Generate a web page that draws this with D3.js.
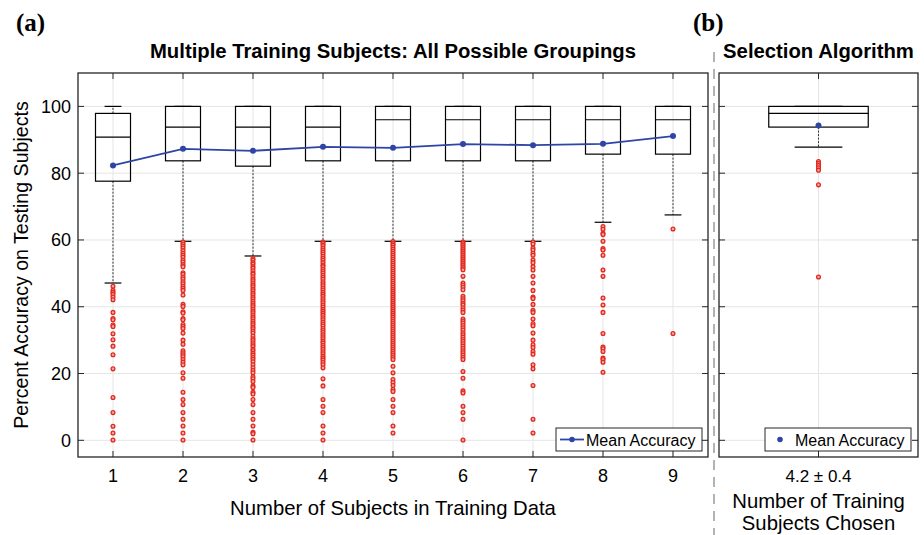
<!DOCTYPE html>
<html>
<head>
<meta charset="utf-8">
<script src="https://cdn.jsdelivr.net/npm/d3@7"></script>
<style>
    body { margin: 0; background: #fff; }
    svg text { font-family: "Liberation Sans", Arial, Helvetica, sans-serif; fill: #000; }
</style>
</head>
<body>
<svg id="chart" width="924" height="535"></svg>
<script>
// ---- data ----
var groups = [1, 2, 3, 4, 5, 6, 7, 8, 9];
var q1 = [77.6, 83.7, 82.1, 83.7, 83.7, 83.7, 83.7, 85.7, 85.7];
var medians = [90.8, 93.8, 93.8, 93.8, 96.0, 96.0, 96.0, 96.0, 96.0];
var q3 = [97.9, 100, 100, 100, 100, 100, 100, 100, 100];
var upperWhisker = [100, 100, 100, 100, 100, 100, 100, 100, 100];
var lowerWhisker = [47.1, 59.6, 55.2, 59.6, 59.6, 59.6, 59.6, 65.3, 67.5];
var meanAccuracy = [82.3, 87.3, 86.7, 87.9, 87.6, 88.7, 88.4, 88.8, 91.1];

var outliers1 = [46.1, 44.9, 44.3, 43.7, 42.9, 42.1, 38.3, 36.5, 36.1, 34.5, 34.1, 31.9, 30.1, 28.2,
    25.6, 21.4, 12.8, 8.3, 4.2, 2.2, 0.1];
var outliers2 = [59.4, 58.8, 58.2, 57.6, 56.8, 56.0, 55.4, 54.8, 54.0, 53.4, 52.6, 52.0, 50.2, 49.7,
    48.9, 48.3, 47.5, 46.9, 46.1, 45.5, 44.9, 43.5, 40.7, 40.1, 38.5, 38.1, 36.5, 36.1, 34.7, 34.1,
    33.5, 32.1, 30.0, 28.8, 26.8, 26.2, 25.6, 25.0, 24.2, 23.4, 22.6, 20.2, 18.6, 14.4, 12.2, 10.7,
    8.3, 6.3, 4.3, 2.2, 0.1];
var outliers3 = [54.4, 53.9, 53.2, 52.7, 52.0, 51.5, 50.8, 50.1, 49.7, 49.0, 48.3, 47.8, 47.1, 46.5,
    46.0, 45.3, 44.8, 44.1, 43.6, 42.9, 42.4, 41.7, 41.1, 40.5, 40.0, 39.3, 38.7, 38.2, 37.5, 36.9,
    36.4, 35.7, 35.1, 34.6, 33.9, 33.4, 32.7, 32.1, 31.2, 30.4, 29.9, 29.2, 28.6, 28.1, 27.3, 26.8,
    26.1, 25.5, 24.8, 24.2, 23.5, 22.6, 21.7, 20.9, 20.2, 19.0, 18.4, 17.6, 16.3, 15.8, 14.4, 13.9,
    12.2, 10.7, 8.3, 6.3, 4.3, 2.4, 2.0, 0.1];
var outliers4 = [59.4, 58.9, 58.3, 57.6, 57.0, 56.4, 55.8, 55.1, 54.5, 53.9, 53.2, 52.5, 52.0, 51.3,
    50.7, 50.1, 49.4, 48.8, 48.2, 47.5, 46.9, 46.3, 45.6, 45.0, 44.3, 43.7, 43.1, 42.4, 41.8, 41.2,
    40.5, 39.9, 39.2, 38.6, 38.0, 37.4, 36.7, 36.1, 35.4, 34.8, 34.2, 33.5, 32.9, 32.3, 31.6, 31.0,
    30.4, 29.7, 29.1, 28.4, 27.8, 27.2, 26.5, 25.9, 25.2, 24.6, 24.0, 23.3, 22.6, 21.7, 18.4, 16.3,
    12.2, 10.2, 8.3, 4.3, 2.2, 0.1];
var outliers5 = [59.5, 58.9, 58.4, 57.8, 57.2, 56.6, 56.0, 55.4, 54.8, 54.2, 53.6, 53.0, 52.4, 51.8,
    51.2, 50.6, 50.0, 49.4, 48.8, 48.2, 47.6, 47.0, 46.4, 45.8, 45.2, 44.6, 44.0, 43.4, 42.8, 42.2,
    41.6, 41.0, 40.4, 39.8, 39.2, 38.6, 38.0, 37.4, 36.8, 36.2, 35.6, 35.0, 34.4, 33.8, 33.2, 32.6,
    32.0, 31.4, 30.8, 30.2, 29.6, 29.0, 28.4, 27.8, 27.2, 26.6, 26.0, 25.4, 24.8, 24.2, 22.2, 20.2,
    18.2, 17.3, 16.4, 15.2, 14.6, 12.2, 10.2, 8.3, 4.3, 2.2];
var outliers6 = [59.4, 58.9, 58.3, 57.7, 57.1, 56.5, 55.9, 55.3, 54.7, 54.1, 53.5, 52.9, 52.3, 51.7,
    51.1, 49.1, 47.1, 46.5, 45.8, 45.1, 43.1, 42.4, 41.8, 41.0, 40.5, 39.7, 39.0, 38.3, 36.3, 35.7,
    35.1, 34.4, 33.7, 33.0, 32.2, 31.6, 30.9, 30.2, 29.6, 28.9, 28.2, 27.5, 26.8, 26.2, 25.5, 24.8,
    24.2, 20.6, 18.6, 14.8, 14.2, 10.2, 8.3, 6.3, 0.1];
var outliers7 = [59.4, 58.8, 57.6, 57.0, 56.0, 55.4, 54.0, 53.2, 52.0, 51.0, 49.1, 47.1, 44.9, 42.9,
    42.5, 40.7, 38.9, 38.3, 36.3, 34.9, 34.3, 32.1, 30.0, 28.6, 27.8, 26.6, 25.8, 22.6, 21.4, 16.4,
    6.3, 2.2];
var outliers8 = [64.0, 63.2, 62.0, 61.6, 59.6, 57.4, 57.0, 55.4, 51.0, 49.1, 42.6, 40.5, 38.3, 32.0,
    27.9, 27.4, 26.6, 24.6, 24.2, 23.4, 20.4];
var outliers9 = [63.3, 32.0];
var outlierSets = [outliers1, outliers2, outliers3, outliers4, outliers5, outliers6, outliers7,
    outliers8, outliers9];

var selQ1 = 93.8, selMedian = 97.9, selQ3 = 100, selUpper = 100, selLower = 87.8, selMean = 94.3;
var selOutliers = [83.5, 82.9, 82.3, 81.6, 80.9, 76.5, 48.9];
var selTickLabel = "4.2 \u00b1 0.4";

var yTicks = [0, 20, 40, 60, 80, 100];

// ---- colours ----
var frameColor = "#262626",
    gridColor = "#e5e5e5",
    meanColor = "#2f45a6",
    outlierStroke = "#e2291f",
    outlierFill = "#f4a8a2";

var svg = d3.select("#chart");

var y = d3.scaleLinear().domain([-5, 110]).range([457, 73]);
var xLeft = d3.scaleLinear().domain([0.5, 9.5]).range([78, 708]);
var xRight = d3.scaleLinear().domain([0.5, 1.5]).range([719, 918]);

/**
 * grid, inner ticks and frame of one MATLAB style axes
 */
function drawFrame(x, xVals) {
    var x0 = x.range()[0], x1 = x.range()[1],
        y0 = y.range()[1], y1 = y.range()[0];
    var g = svg.append("g");

    g.selectAll("line.gx").data(xVals).enter().append("line")
        .attr("x1", function (d) { return x(d); })
        .attr("x2", function (d) { return x(d); })
        .attr("y1", y0).attr("y2", y1)
        .attr("stroke", gridColor).attr("stroke-width", 1);
    g.selectAll("line.gy").data(yTicks).enter().append("line")
        .attr("x1", x0).attr("x2", x1)
        .attr("y1", function (d) { return y(d); })
        .attr("y2", function (d) { return y(d); })
        .attr("stroke", gridColor).attr("stroke-width", 1);

    // ticks on all four sides, pointing inward
    var tk = 6;
    xVals.forEach(function (v) {
        g.append("line").attr("x1", x(v)).attr("x2", x(v)).attr("y1", y1).attr("y2", y1 - tk)
            .attr("stroke", frameColor);
        g.append("line").attr("x1", x(v)).attr("x2", x(v)).attr("y1", y0).attr("y2", y0 + tk)
            .attr("stroke", frameColor);
    });
    yTicks.forEach(function (v) {
        g.append("line").attr("x1", x0).attr("x2", x0 + tk).attr("y1", y(v)).attr("y2", y(v))
            .attr("stroke", frameColor);
        g.append("line").attr("x1", x1).attr("x2", x1 - tk).attr("y1", y(v)).attr("y2", y(v))
            .attr("stroke", frameColor);
    });
    return g;
}

function drawBoxes(x, data) {
    var g = svg.append("g");
    var half = 0.25, cap = 0.12;

    // whiskers
    g.selectAll("line.lw").data(data).enter().append("line")
        .attr("x1", function (d) { return x(d.pos); })
        .attr("x2", function (d) { return x(d.pos); })
        .attr("y1", function (d) { return y(d.q1); })
        .attr("y2", function (d) { return y(d.lo); })
        .attr("stroke", "#333").attr("stroke-width", 1).attr("stroke-dasharray", "2,1.5");
    g.selectAll("line.uw").data(data).enter().append("line")
        .attr("x1", function (d) { return x(d.pos); })
        .attr("x2", function (d) { return x(d.pos); })
        .attr("y1", function (d) { return y(d.q3); })
        .attr("y2", function (d) { return y(d.hi); })
        .attr("stroke", "#333").attr("stroke-width", 1).attr("stroke-dasharray", "2,1.5");

    ["lo", "hi"].forEach(function (k) {
        g.selectAll("line.cap" + k).data(data).enter().append("line")
            .attr("x1", function (d) { return x(d.pos - cap); })
            .attr("x2", function (d) { return x(d.pos + cap); })
            .attr("y1", function (d) { return y(d[k]); })
            .attr("y2", function (d) { return y(d[k]); })
            .attr("stroke", "#000").attr("stroke-width", 1.2);
    });

    g.selectAll("rect").data(data).enter().append("rect")
        .attr("x", function (d) { return x(d.pos - half); })
        .attr("width", function (d) { return x(d.pos + half) - x(d.pos - half); })
        .attr("y", function (d) { return y(d.q3); })
        .attr("height", function (d) { return y(d.q1) - y(d.q3); })
        .attr("fill", "none").attr("stroke", "#000").attr("stroke-width", 1.2);

    g.selectAll("line.med").data(data).enter().append("line")
        .attr("x1", function (d) { return x(d.pos - half); })
        .attr("x2", function (d) { return x(d.pos + half); })
        .attr("y1", function (d) { return y(d.med); })
        .attr("y2", function (d) { return y(d.med); })
        .attr("stroke", "#000").attr("stroke-width", 1.2);

    // outliers
    data.forEach(function (d) {
        g.selectAll(null).data(d.out).enter().append("circle")
            .attr("cx", x(d.pos))
            .attr("cy", function (v) { return y(v); })
            .attr("r", 1.9)
            .attr("fill", outlierFill)
            .attr("stroke", outlierStroke).attr("stroke-width", 1.3);
    });
    return g;
}

function drawBorder(x) {
    svg.append("rect")
        .attr("x", x.range()[0]).attr("y", y.range()[1])
        .attr("width", x.range()[1] - x.range()[0])
        .attr("height", y.range()[0] - y.range()[1])
        .attr("fill", "none").attr("stroke", frameColor).attr("stroke-width", 1.3);
}

function drawLegend(x0, x1, withLine) {
    var top = 428, bottom = 451, mid = (top + bottom) / 2;
    var g = svg.append("g");
    g.append("rect").attr("x", x0).attr("y", top).attr("width", x1 - x0).attr("height", bottom - top)
        .attr("fill", "#fff").attr("stroke", frameColor).attr("stroke-width", 1);
    if (withLine) {
        g.append("line").attr("x1", x0 + 4).attr("x2", x0 + 28).attr("y1", mid).attr("y2", mid)
            .attr("stroke", meanColor).attr("stroke-width", 1.8);
        g.append("circle").attr("cx", x0 + 16).attr("cy", mid).attr("r", 2.8).attr("fill", meanColor);
        g.append("text").attr("x", x0 + 30).attr("y", mid + 6).style("font-size", "16px").text("Mean Accuracy");
    } else {
        g.append("circle").attr("cx", x0 + 15).attr("cy", mid).attr("r", 2.8).attr("fill", meanColor);
        g.append("text").attr("x", x0 + 30).attr("y", mid + 6).style("font-size", "16px").text("Mean Accuracy");
    }
}

// ---- panel (a) ----
drawFrame(xLeft, groups);

var boxData = groups.map(function (g, i) {
    return {pos: g, q1: q1[i], med: medians[i], q3: q3[i], hi: upperWhisker[i],
        lo: lowerWhisker[i], out: outlierSets[i]};
});
drawBoxes(xLeft, boxData);

var meanLine = d3.line()
    .x(function (d, i) { return xLeft(groups[i]); })
    .y(function (d) { return y(d); });
svg.append("path").datum(meanAccuracy)
    .attr("d", meanLine)
    .attr("fill", "none").attr("stroke", meanColor).attr("stroke-width", 1.8);
svg.selectAll("circle.mean").data(meanAccuracy).enter().append("circle")
    .attr("class", "mean")
    .attr("cx", function (d, i) { return xLeft(groups[i]); })
    .attr("cy", function (d) { return y(d); })
    .attr("r", 3)
    .attr("fill", meanColor);

drawBorder(xLeft);
drawLegend(556, 702, true);

svg.selectAll("text.xt").data(groups).enter().append("text")
    .attr("x", function (d) { return xLeft(d); })
    .attr("y", 482)
    .attr("text-anchor", "middle")
    .style("font-size", "18px")
    .text(function (d) { return d; });
svg.selectAll("text.yt").data(yTicks).enter().append("text")
    .attr("x", 71)
    .attr("y", function (d) { return y(d) + 6.5; })
    .attr("text-anchor", "end")
    .style("font-size", "18px")
    .text(function (d) { return d; });

svg.append("text")
    .attr("transform", "translate(28,265) rotate(-90)")
    .attr("text-anchor", "middle")
    .style("font-size", "19.6px")
    .text("Percent Accuracy on Testing Subjects");
svg.append("text")
    .attr("x", 393).attr("y", 515)
    .attr("text-anchor", "middle")
    .style("font-size", "20.3px")
    .text("Number of Subjects in Training Data");
svg.append("text")
    .attr("x", 393).attr("y", 58)
    .attr("text-anchor", "middle")
    .style("font-size", "20.3px").style("font-weight", "bold")
    .text("Multiple Training Subjects: All Possible Groupings");

// ---- panel (b) ----
drawFrame(xRight, [1]);
drawBoxes(xRight, [{pos: 1, q1: selQ1, med: selMedian, q3: selQ3, hi: selUpper, lo: selLower,
    out: selOutliers}]);
svg.append("circle").attr("cx", xRight(1)).attr("cy", y(selMean)).attr("r", 3).attr("fill", meanColor);
drawBorder(xRight);
drawLegend(765, 911, false);

svg.append("text")
    .attr("x", xRight(1)).attr("y", 482)
    .attr("text-anchor", "middle")
    .style("font-size", "17px")
    .text(selTickLabel);
svg.append("text")
    .attr("x", xRight(1)).attr("y", 508)
    .attr("text-anchor", "middle")
    .style("font-size", "20.3px")
    .text("Number of Training");
svg.append("text")
    .attr("x", xRight(1)).attr("y", 530)
    .attr("text-anchor", "middle")
    .style("font-size", "20.3px")
    .text("Subjects Chosen");
svg.append("text")
    .attr("x", xRight(1)).attr("y", 58)
    .attr("text-anchor", "middle")
    .style("font-size", "20.3px").style("font-weight", "bold")
    .text("Selection Algorithm");

// separator and panel letters
svg.append("line")
    .attr("x1", 714).attr("x2", 714).attr("y1", 52).attr("y2", 535)
    .attr("stroke", "#9a9a9a").attr("stroke-width", 1.5).attr("stroke-dasharray", "10,7");
svg.append("text").attr("x", 16).attr("y", 31)
    .style("font-family", "'Liberation Serif', 'Times New Roman', serif")
    .style("font-size", "25px").style("font-weight", "bold")
    .text("(a)");
svg.append("text").attr("x", 693).attr("y", 31)
    .style("font-family", "'Liberation Serif', 'Times New Roman', serif")
    .style("font-size", "25px").style("font-weight", "bold")
    .text("(b)");
</script>
</body>
</html>
